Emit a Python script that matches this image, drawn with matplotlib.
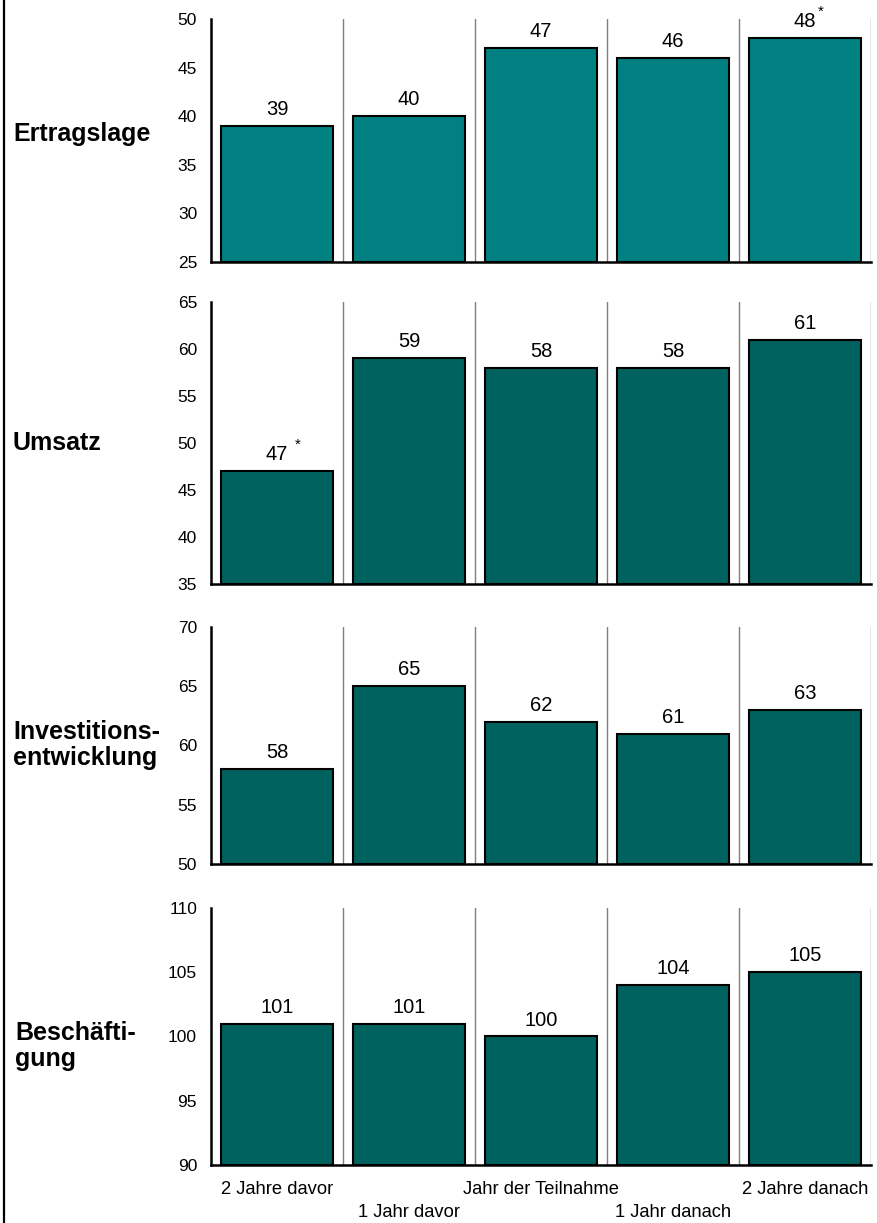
import matplotlib
matplotlib.use("Agg")
import matplotlib.pyplot as plt
from matplotlib.lines import Line2D

plt.rcParams["font.family"] = ["Liberation Sans", "DejaVu Sans"]

categories = ["2 Jahre davor", "1 Jahr davor", "Jahr der Teilnahme",
              "1 Jahr danach", "2 Jahre danach"]
panel_names = ["Ertragslage", "Umsatz", "Investitions-\nentwicklung", "Beschäfti-\ngung"]
ertrag = [39, 40, 47, 46, 48]
umsatz = [47, 59, 58, 58, 61]
invest = [58, 65, 62, 61, 63]
besch = [101, 101, 100, 104, 105]
series = [ertrag, umsatz, invest, besch]
stars = [[False, False, False, False, True],
         [True, False, False, False, False],
         [False] * 5, [False] * 5]
ylims = [(25, 50), (35, 65), (50, 70), (90, 110)]
yticks = [range(25, 51, 5), range(35, 66, 5), range(50, 71, 5), range(90, 111, 5)]
colors = ["#008080", "#00625e", "#00625e", "#00625e"]

# axes boxes in pixels: (top, bottom)
W, H = 877, 1223
boxes = [(19, 262), (302, 584), (627, 864), (908, 1165)]
label_y = [134, 443, 745, 1046]
label_x = [13, 13, 13, 15]
x0, x1 = 211, 871

fig = plt.figure(figsize=(W / 100, H / 100), dpi=100)
fig.add_artist(Line2D([4 / W, 4 / W], [0, 1], color="black", lw=1.6))

for i, (vals, (top, bot)) in enumerate(zip(series, boxes)):
    ax = fig.add_axes([x0 / W, 1 - bot / H, (x1 - x0) / W, (bot - top) / H])
    lo, hi = ylims[i]
    xs = range(len(vals))
    ax.bar(xs, [v - lo for v in vals], bottom=lo, width=0.85, color=colors[i],
           edgecolor="black", lw=1.5, zorder=3)
    for k in range(1, len(vals) + 1):
        ax.axvline(k - 0.5, color="#7f7f7f", lw=1, zorder=1)
    for x, v, s in zip(xs, vals, stars[i]):
        ax.annotate(str(v), (x, v), xytext=(0, 5), textcoords="offset points",
                    ha="center", va="bottom", fontsize=14.5)
        if s:
            dx = 11 if i == 0 else 15
            ax.annotate("*", (x, v), xytext=(dx, 14), textcoords="offset points",
                        ha="center", va="bottom", fontsize=11)
    ax.set_xlim(-0.5, len(vals) - 0.5)
    ax.set_ylim(lo, hi)
    ax.set_yticks(list(yticks[i]))
    ax.tick_params(axis="y", length=0, labelsize=12.5, pad=10)
    for sp in ("top", "right"):
        ax.spines[sp].set_visible(False)
    ax.spines["left"].set_linewidth(1.8)
    ax.spines["bottom"].set_linewidth(1.8)
    if i == 3:
        ax.set_xticks(list(xs))
        ax.set_xticklabels(["" for _ in xs])
        ax.tick_params(axis="x", length=0)
        for x, c in zip(xs, categories):
            ax.annotate(c, (x, lo), xytext=(0, -18 if x % 2 == 0 else -34),
                        textcoords="offset points", ha="center", va="center",
                        fontsize=13.2)
    else:
        ax.set_xticks([])
    fig.text(label_x[i] / W, 1 - label_y[i] / H, panel_names[i], ha="left",
             va="center", fontsize=18, fontweight="bold", linespacing=1.1)

fig.savefig("out.png", dpi=100)
